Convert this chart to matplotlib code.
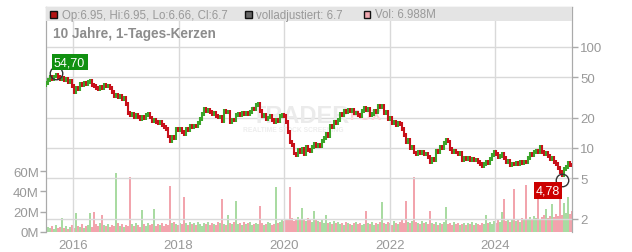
import numpy as np
import pandas as pd
import matplotlib
matplotlib.use("Agg")
import matplotlib.pyplot as plt
import matplotlib.dates as mdates
from matplotlib.patches import Rectangle

plt.rcParams['font.family'] = ['Liberation Sans', 'DejaVu Sans']

# biweekly closes, mid 2015 .. mid 2025
first_open = 42.0
closes = [
    44, 47, 50, 48, 51, 53, 50, 48, 49, 47, 48, 45, 46, 41, 36, 39, 38, 43, 42, 44,
    43, 45, 46, 42, 41, 39, 38, 40, 39.5, 42, 41, 41.5, 39, 36, 33, 33.5, 32, 32.5, 30.5, 31,
    27, 22, 21, 21.5, 20, 21, 20.3, 19.5, 20.2, 19.8, 21, 21.7, 20, 18.5, 18.9, 18, 17.6, 18, 17, 16.2,
    15.4, 13, 11.7, 13, 12.6, 15.5, 15, 15.3, 14.5, 13.7, 15.5, 15.2, 16.5, 16, 16.7, 16.4, 17.5, 19.4, 21.7, 24.3,
    23.2, 23.8, 22.7, 21.5, 22, 20.6, 20, 20.4, 18.5, 23.3, 22.5, 22.9, 18, 19, 18.7, 21, 21.7, 21.2, 22, 21.5,
    22.2, 21.8, 22.7, 24.5, 24, 26.5, 27.3, 23, 20.7, 21.3, 19.4, 20, 20.7, 19, 18, 19, 18.6, 20.7, 21.4, 20.7,
    18, 14.5, 11.5, 10.6, 8.8, 8.5, 9.6, 9.2, 9.8, 8.7, 10.2, 9.6, 9.3, 10.2, 11, 10.5, 10.8, 10.4, 11.7, 12.5,
    13.7, 13.2, 16.5, 16, 18, 17.6, 19, 21.5, 21, 23, 22.5, 24, 23.3, 23.8, 22, 22.3, 21, 20.7, 23, 25,
    23.8, 24.2, 21.2, 21.8, 23.3, 22.8, 26, 25.5, 26, 22, 22.5, 19.5, 20, 17.8, 18.2, 16.8, 17.5, 17.1, 15.5, 13.5,
    11.5, 11.9, 10, 10.3, 9, 8.7, 9.2, 8.9, 9.1, 8.6, 8.8, 8.1, 7.3, 7.8, 7.6, 9.3, 9, 10.2, 10, 11.3,
    12, 11.6, 9.8, 9.1, 9.4, 9, 8.7, 8.9, 7.6, 7.9, 7.7, 7.9, 7.5, 7.7, 7.5, 7.6, 7.3, 7, 6.6, 7,
    7.3, 7.1, 7.8, 8.5, 9.1, 8.7, 8.1, 8.4, 8.7, 8, 7.3, 7.5, 6.8, 7, 6.9, 7.1, 6.9, 7.2, 7.1, 7.3,
    7.2, 8, 8.7, 8.5, 9.1, 9.4, 9.2, 10.2, 9.2, 8.7, 8.9, 8.4, 7.8, 8, 7.3, 6.9, 6.3, 5.8, 5.4, 6.2,
    6.5, 7.1, 6.8, 6.7,
]

# volume in millions, same periods
volumes = [
    3, 5, 4, 6, 3, 7, 4, 5, 14, 4, 6, 3, 5, 7, 4, 19, 6, 5, 8, 4,
    6, 7, 19, 5, 20, 8, 6, 9, 17, 7, 6, 8, 5, 7, 6, 58, 9, 6, 8, 5,
    7, 6, 54, 8, 6, 9, 7, 5, 22, 8, 6, 9, 7, 8, 23, 6, 8, 7, 9, 6,
    8, 7, 45, 9, 10, 8, 7, 9, 8, 35, 9, 7, 10, 8, 9, 7, 10, 8, 6, 9,
    8, 10, 7, 9, 8, 7, 10, 9, 33, 8, 7, 17, 9, 8, 10, 31, 8, 9, 7, 10,
    8, 9, 10, 7, 8, 9, 8, 26, 9, 7, 8, 10, 9, 7, 8, 44, 9, 10, 12, 11,
    13, 12, 44, 14, 11, 13, 15, 12, 24, 13, 11, 14, 12, 10, 21, 12, 11, 10, 13, 9,
    17, 9, 10, 8, 11, 9, 10, 8, 9, 7, 10, 9, 8, 7, 9, 10, 8, 9, 7, 8,
    21, 9, 8, 10, 7, 9, 8, 10, 30, 9, 8, 10, 9, 7, 11, 9, 8, 10, 12, 9,
    31, 10, 9, 11, 54, 10, 9, 8, 11, 9, 10, 8, 21, 9, 8, 10, 7, 9, 8, 10,
    25, 8, 9, 7, 10, 8, 9, 7, 8, 9, 7, 9, 8, 10, 7, 9, 8, 7, 9, 8,
    17, 9, 10, 8, 11, 9, 12, 10, 20, 33, 11, 13, 10, 12, 42, 11, 13, 10, 14, 12,
    46, 13, 15, 12, 16, 14, 35, 13, 15, 17, 23, 14, 16, 28, 15, 18, 16, 39, 17, 29,
    19, 35, 18, 21,
]

year_ticks = [2016, 2018, 2020, 2022, 2024]
price_ticks = [2, 5, 10, 20, 50, 100]
vol_ticks = [0, 20, 40, 60]
high_label, low_label = '54,70', '4,78'
high_value, low_value = 54.7, 4.78

dates = pd.date_range('2015-06-28', '2025-06-17', periods=len(closes))
closes = np.array(closes, dtype=float)
opens = np.concatenate([[first_open], closes[:-1]])
up = closes >= opens

c_up, c_dn = '#3aa52a', '#c8101a'
v_up, v_dn = '#a9dba2', '#f2a4ad'
grid_c = '#d9d9d9'
txt_c = '#999999'

fig = plt.figure(figsize=(6.32, 2.53), dpi=100)
ax_v = fig.add_axes([46 / 632, 20 / 253, 526 / 632, 225 / 253])
ax = ax_v.twinx()

# volume
ax_v.bar(dates, volumes, width=9, color=np.where(up, v_up, v_dn), linewidth=0)
ax_v.set_ylim(0, 222)
ax_v.set_yticks(vol_ticks)
ax_v.set_yticklabels([f'{v}M' for v in vol_ticks])

# candles
lo = np.minimum(opens, closes)
hi = np.maximum(opens, closes)
ax.vlines(dates, lo / 1.045, hi * 1.045, colors=np.where(up, c_up, c_dn), linewidth=1.5, zorder=3)
ax.set_yscale('log')
ax.set_ylim(1.47, 249)
ax.set_yticks(price_ticks)
ax.set_yticklabels([str(p) for p in price_ticks])
ax.yaxis.set_minor_locator(matplotlib.ticker.NullLocator())

ax.set_xlim(dates[0], dates[-1])
ax.set_xticks([pd.Timestamp(f'{y}-01-01') for y in year_ticks])
ax_v.xaxis.set_major_formatter(mdates.DateFormatter('%Y'))

# grid
for y in year_ticks:
    ax.axvline(pd.Timestamp(f'{y}-01-01'), color=grid_c, lw=1, zorder=0)
for p in price_ticks:
    ax.axhline(p, color=grid_c, lw=1, zorder=0)

for a in (ax, ax_v):
    for s in a.spines.values():
        s.set_color('#aaaaaa')
    a.spines['bottom'].set_visible(False)
    a.tick_params(colors='#aaaaaa', labelcolor=txt_c, labelsize=9.5, length=4, width=1)
ax.tick_params(axis='y', pad=2)
ax_v.tick_params(axis='y', pad=1)
ax_v.tick_params(axis='x', length=0, pad=5)

# header band
ax.add_patch(Rectangle((0, 211 / 225), 1, 14 / 225, transform=ax.transAxes,
                       facecolor='#e4e4e4', edgecolor='none', zorder=5))
hy = 1 - 15.5 / 253
for x, fc, label in [(53.5, '#b41414', 'Op:6.95, Hi:6.95, Lo:6.66, Cl:6.7'),
                     (248.5, '#666666', 'volladjustiert: 6.7'),
                     (367, '#f0a8b0', 'Vol: 6.988M')]:
    fig.patches.append(Rectangle(((x - 3.5) / 632, hy - 3.5 / 253), 7 / 632, 7 / 253,
                                 transform=fig.transFigure, facecolor=fc,
                                 edgecolor='#111111', lw=1, zorder=6))
    fig.text((x + 8) / 632, hy, label, fontsize=8.3, color='#999999',
             va='center', ha='left', zorder=7)
fig.text(53 / 632, 1 - 34 / 253, '10 Jahre, 1-Tages-Kerzen', fontsize=9.8,
         fontweight='bold', color='#8c8c8c', va='center', ha='left')

# watermark
ax.text(0.578, 0.518, 'TRADER', transform=ax.transAxes, fontsize=17, fontweight='bold',
        color='#ebebeb', ha='right', va='center', zorder=0.5)
ax.text(0.578, 0.518, 'FOX', transform=ax.transAxes, fontsize=11, fontweight='bold',
        color='#fbd3d8', ha='left', va='center', zorder=0.5)
ax.text(0.47, 0.455, 'REALTIME STOCK SCREENING', transform=ax.transAxes, fontsize=4.8,
        fontweight='bold', color='#ededed', ha='center', va='center', zorder=0.5)

# high / low markers
i_hi = 5
i_lo = int(np.argmin(closes))
ax.plot(dates[i_hi], high_value, 'o', ms=9, mfc='none', mec='#333333', mew=1, zorder=4)
ax.text(dates[i_hi - 1], 71, high_label, color='white', fontsize=9, ha='left', va='center',
        bbox=dict(boxstyle='square,pad=0.18', fc='#109010', ec='none'), zorder=6)
ax.plot(dates[i_lo], low_value, 'o', ms=9, mfc='none', mec='#333333', mew=1, zorder=4)
ax.text(dates[i_lo - 1], 3.8, low_label, color='white', fontsize=9, ha='right', va='center',
        bbox=dict(boxstyle='square,pad=0.18', fc='#cc0000', ec='none'), zorder=6)

fig.savefig('out.png', dpi=100)
